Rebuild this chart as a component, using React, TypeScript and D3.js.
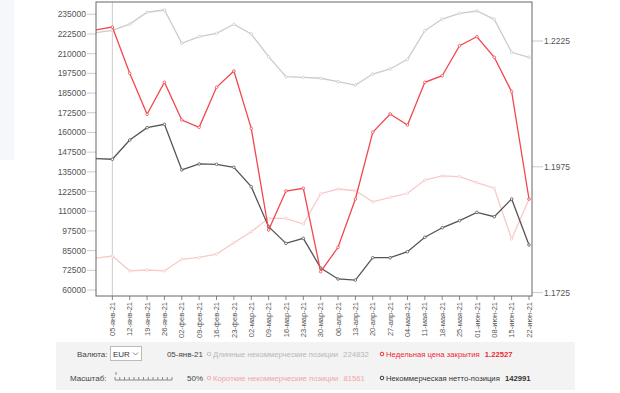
import React from 'react'
import * as d3 from 'd3'

// weekly report dates (first one is the week before the labelled range)
const dates = ['29-дек-20', '05-янв-21', '12-янв-21', '19-янв-21', '26-янв-21', '02-фев-21', '09-фев-21', '16-фев-21', '23-фев-21',
  '02-мар-21', '09-мар-21', '16-мар-21', '23-мар-21', '30-мар-21', '06-апр-21', '13-апр-21', '20-апр-21', '27-апр-21',
  '04-мая-21', '11-мая-21', '18-мая-21', '25-мая-21', '01-июн-21', '08-июн-21', '15-июн-21', '22-июн-21']

const longPos = [223300, 224832, 228800, 236300, 237700, 216600, 220800, 222900, 228650, 222500, 208100, 195400, 195000,
  194400, 192200, 190100, 197100, 200300, 206400, 224600, 232000, 235600, 237100, 231800, 210900, 207700]
const shortPos = [80100, 81561, 72200, 72700, 72200, 79500, 80700, 82800, 90000, 97000, 105500, 105500, 101900,
  121100, 124100, 123000, 116000, 118800, 121400, 129800, 132400, 132000, 128100, 124600, 92400, 117600]
const netPos = [143400, 142991, 155200, 163000, 165200, 136200, 140000, 139800, 137900, 125600, 100200, 89600, 92800,
  74000, 67000, 66300, 80500, 80500, 84300, 93500, 99500, 104000, 109300, 106500, 117800, 88600]
const closePrice = [1.22469, 1.22527, 1.21608, 1.20793, 1.21429, 1.2068, 1.20535, 1.2133, 1.21654, 1.20515, 1.18494,
  1.19269, 1.19323, 1.17665, 1.1815, 1.1911, 1.20436, 1.20799, 1.20581, 1.21429, 1.2156, 1.22157, 1.22335, 1.21926,
  1.21242, 1.1911]

const leftTicks = d3.range(60000, 235001, 12500)
const rightTicks = [1.1725, 1.1975, 1.2225]

const FONT = '"Liberation Sans", Arial, sans-serif'

export default function App() {
  const frame = { left: 96, right: 532, top: 2, bottom: 296 }

  const x = d3.scalePoint<string>().domain(dates).range([95, 529])
  const yL = d3.scaleLinear().domain([56200, 242800]).range([frame.bottom, frame.top])
  const yR = d3.scaleLinear().domain([1.17182, 1.23025]).range([frame.bottom, frame.top])

  const mkLine = (vals: number[], y: d3.ScaleLinear<number, number>) =>
    d3.line<number>().x((_, i) => x(dates[i]) as number).y(v => y(v))(vals) || ''

  const series = [
    { vals: longPos, y: yL, color: '#cbcbcb' },
    { vals: shortPos, y: yL, color: '#f8c9c9' },
    { vals: netPos, y: yL, color: '#555555' },
    { vals: closePrice, y: yR, color: '#f2474f' },
  ]

  const cursorX = x(dates[1]) as number

  // slider ruler
  const sliderTicks = d3.range(0, 13)

  return (
    <svg width={620} height={393} style={{ position: 'absolute', left: 0, top: 0, fontFamily: FONT }}>
      <rect x={0} y={0} width={620} height={393} fill="#fff" />
      <rect x={0} y={0} width={14} height={160} fill="#f6f7fb" />
      <defs>
        <clipPath id="plot">
          <rect x={frame.left} y={frame.top} width={frame.right - frame.left} height={frame.bottom - frame.top} />
        </clipPath>
      </defs>

      {/* left axis */}
      {leftTicks.map(t => (
        <g key={t}>
          <line x1={87} x2={frame.left} y1={yL(t)} y2={yL(t)} stroke="#ccc" />
          <text x={86} y={yL(t)} dy="0.35em" textAnchor="end" fontSize={8.5} fill="#555">{t}</text>
        </g>
      ))}

      {/* right axis */}
      {rightTicks.map(t => (
        <g key={t}>
          <line x1={frame.right} x2={frame.right + 11} y1={yR(t)} y2={yR(t)} stroke="#ccc" />
          <text x={frame.right + 12} y={yR(t)} dy="0.35em" fontSize={8.5} fill="#555">{t.toFixed(4)}</text>
        </g>
      ))}

      {/* x axis */}
      {dates.slice(1).map(d => (
        <g key={d} transform={`translate(${x(d)},${frame.bottom})`}>
          <line y1={0} y2={4} stroke="#888" />
          <text transform="rotate(-90)" x={-6} y={0} dy="0.35em" textAnchor="end" fontSize={7.5} fill="#555">{d}</text>
        </g>
      ))}

      <line x1={cursorX} x2={cursorX} y1={frame.top} y2={frame.bottom} stroke="#ccc" />

      <g clipPath="url(#plot)">
        {series.map((s, k) => (
          <g key={k}>
            <path d={mkLine(s.vals, s.y)} fill="none" stroke={s.color} strokeWidth={1.3} />
            {s.vals.map((v, i) => (
              <circle key={i} cx={x(dates[i]) as number} cy={s.y(v)} r={1.3} fill="#fff" stroke={s.color} strokeWidth={0.8} />
            ))}
          </g>
        ))}
      </g>

      <rect x={frame.left} y={frame.top} width={frame.right - frame.left} height={frame.bottom - frame.top}
        fill="none" stroke="#666" />

      {/* control panel */}
      <rect x={56} y={342} width={519} height={48} fill="#f3f3f3" />
      <g fontSize={8} fill="#444">
        <text x={77} y={354} dy="0.35em">Валюта:</text>
        <rect x={110.5} y={346.5} width={31} height={14} fill="#fff" stroke="#bbb" />
        <text x={113} y={354} dy="0.35em" fill="#333">EUR</text>
        <path d="M133,352.5 l2.5,2.5 l2.5,-2.5" fill="none" stroke="#888" />
        <text x={203} y={354} dy="0.35em" textAnchor="end">05-янв-21</text>

        <text x={70} y={378} dy="0.35em">Масштаб:</text>
        <line x1={115} x2={172} y1={380} y2={380} stroke="#888" />
        {sliderTicks.map(i => (
          <line key={i} x1={115 + i * 4.75} x2={115 + i * 4.75} y1={377} y2={380} stroke="#888" />
        ))}
        <line x1={116} x2={116} y1={372} y2={375} stroke="#888" />
        <text x={203} y={378} dy="0.35em" textAnchor="end">50%</text>
      </g>

      <g fontSize={7.7}>
        <circle cx={209} cy={354} r={1.8} fill="none" stroke="#c4c4c4" />
        <text x={213} y={354} dy="0.35em" fill="#b8b8b8">Длинные некоммерческие позиции <tspan dx={3}>{longPos[1]}</tspan></text>
        <circle cx={209} cy={378} r={1.8} fill="none" stroke="#f5b0b0" />
        <text x={213} y={378} dy="0.35em" fill="#f4a5a5">Короткие некоммерческие позиции <tspan dx={3}>{shortPos[1]}</tspan></text>

        <circle cx={382} cy={354} r={1.8} fill="none" stroke="#ee2b35" />
        <text x={386} y={354} dy="0.35em" fill="#ee2b35">Недельная цена закрытия <tspan dx={3} fontWeight="bold">{closePrice[1]}</tspan></text>
        <circle cx={382} cy={378} r={1.8} fill="none" stroke="#333" />
        <text x={386} y={378} dy="0.35em" fill="#333">Некоммерческая нетто-позиция <tspan dx={3} fontWeight="bold">{netPos[1]}</tspan></text>
      </g>
    </svg>
  )
}
